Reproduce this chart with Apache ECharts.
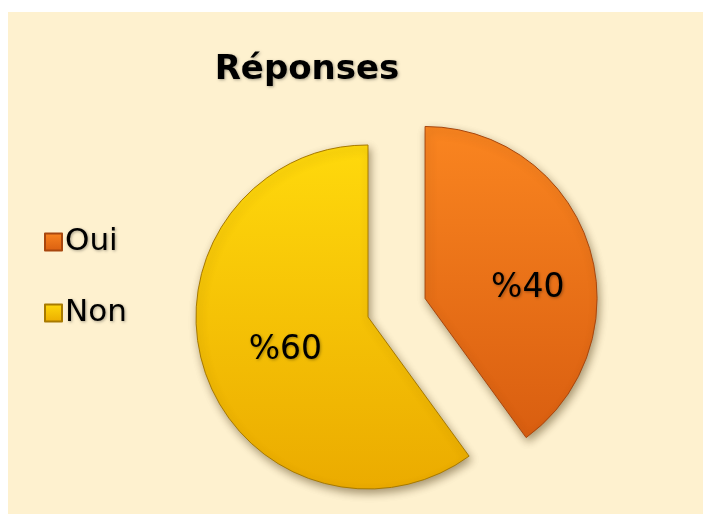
<!DOCTYPE html>
<html>
<head>
<meta charset="utf-8">
<script src="https://cdn.jsdelivr.net/npm/echarts@6/dist/echarts.min.js"></script>
<style>
  html, body { margin: 0; padding: 0; background: #ffffff; }
  #chart { position: absolute; left: 8px; top: 12px; width: 695px; height: 502px; }
</style>
</head>
<body>
<div id="chart"></div>
<script>
// données du graphique
var categories = ['Oui', 'Non'];
var values = [40, 60];
var explodedItem = 'Oui';

// couleurs (dégradé haut -> bas)
var topColors = ['#FA8520', '#FFD90C'];
var bottomColors = ['#D95E10', '#EBAB00'];
var edgeColors = ['#A8470E', '#A87A00'];

// décalage des étiquettes : [droite, bas]
var labelShift = [[18, 17], [2, 6]];

var textShadow = {
    textShadowColor: 'rgba(0,0,0,0.35)',
    textShadowBlur: 3,
    textShadowOffsetX: 1,
    textShadowOffsetY: 1
};

var pieData = [];
for (var i = 0; i < categories.length; i++) {
    var sh = labelShift[i];
    pieData.push({
        name: categories[i],
        value: values[i],
        selected: categories[i] === explodedItem,
        itemStyle: {
            color: new echarts.graphic.LinearGradient(0, 0, 0, 1, [
                { offset: 0, color: topColors[i] },
                { offset: 1, color: bottomColors[i] }
            ]),
            borderColor: edgeColors[i]
        },
        label: {
            padding: [0, 0, 0, sh[0] * 2],
            rich: {
                s: { height: sh[1] * 2, lineHeight: sh[1] * 2 },
                v: Object.assign({
                    fontFamily: 'DejaVu Sans',
                    fontSize: 33,
                    lineHeight: 36,
                    color: '#000000'
                }, textShadow)
            }
        }
    });
}

var option = {
    backgroundColor: '#FEF1CF',
    animation: false,
    title: {
        text: 'Réponses',
        left: 294,
        top: 36,
        textAlign: 'center',
        textStyle: Object.assign({
            fontFamily: 'DejaVu Sans',
            fontWeight: 'bold',
            fontSize: 34,
            color: '#000000'
        }, textShadow)
    },
    legend: {
        orient: 'vertical',
        left: 31,
        top: 208,
        icon: 'rect',
        itemWidth: 17,
        itemHeight: 17,
        itemGap: 37,
        selectedMode: false,
        data: categories,
        textStyle: Object.assign({
            fontFamily: 'DejaVu Sans',
            fontSize: 31,
            color: '#000000',
            lineHeight: 34,
            padding: [0, 0, 0, -2]
        }, textShadow)
    },
    series: [{
        type: 'pie',
        center: [360, 305],
        radius: 172,
        startAngle: 90,
        clockwise: true,
        selectedMode: 'single',
        selectedOffset: 60,
        emphasis: { disabled: true },
        itemStyle: {
            borderWidth: 1,
            shadowColor: 'rgba(60,40,0,0.45)',
            shadowBlur: 8,
            shadowOffsetX: 2,
            shadowOffsetY: 4
        },
        label: {
            show: true,
            position: 'inside',
            formatter: function (p) {
                return '{s|}\n{v|%' + p.value + '}';
            }
        },
        labelLine: { show: false },
        data: pieData
    }]
};

var myChart = echarts.init(document.getElementById('chart'));
myChart.setOption(option);
</script>
</body>
</html>
